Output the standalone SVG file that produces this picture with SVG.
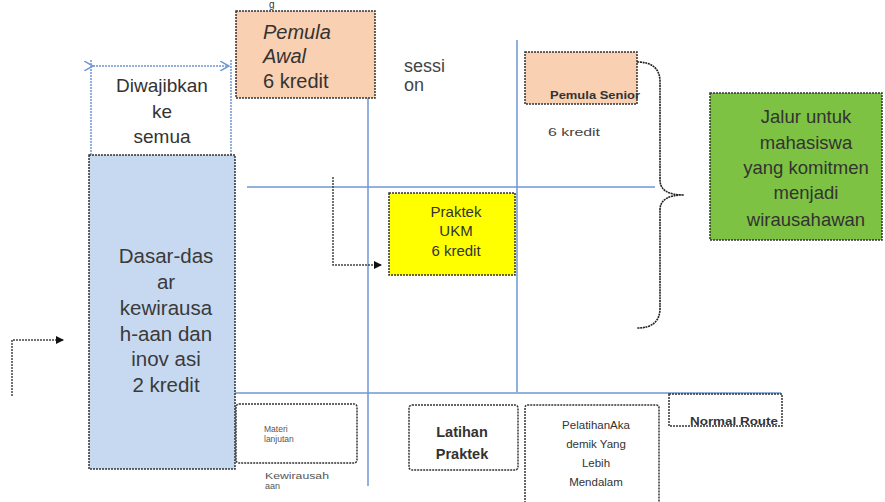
<svg xmlns="http://www.w3.org/2000/svg" width="885" height="502" viewBox="0 0 885 502">
<defs>
<marker id="ah" markerWidth="8" markerHeight="8" refX="7" refY="4" orient="auto" markerUnits="userSpaceOnUse"><path d="M0,0 L8,4 L0,8 Z" fill="#111"/></marker>
<marker id="bh" markerWidth="10" markerHeight="10" refX="9" refY="5" orient="auto" markerUnits="userSpaceOnUse"><path d="M0,0 L9,5 L0,10" fill="none" stroke="#6f97d3" stroke-width="1.5"/></marker>
<style>
text{font-family:"Liberation Sans",Arial,sans-serif;}
.grid{stroke:#6f97d3;stroke-width:1.5;fill:none;}
.box{stroke:#333;stroke-width:1.5;stroke-dasharray:2 1;}
.conn{stroke:#444;stroke-width:1.5;stroke-dasharray:2 1;fill:none;}
.c{text-anchor:middle;}
</style>
</defs>
<rect width="885" height="502" fill="#fff"/>
<text x="269" y="8" font-size="10" fill="#333">g</text>
<g id="grid">
<line class="grid" x1="368" y1="98" x2="368" y2="486"/>
<line class="grid" x1="517" y1="40" x2="517" y2="392"/>
<line class="grid" x1="247" y1="187" x2="655" y2="187"/>
<line class="grid" x1="235" y1="393" x2="781" y2="393"/>
</g>
<g id="diwajibkan">
<line class="grid" x1="91" y1="60" x2="91" y2="155" stroke-dasharray="2 1"/>
<line class="grid" x1="231" y1="60" x2="231" y2="155" stroke-dasharray="2 1"/>
<line class="grid" x1="93" y1="66" x2="229" y2="66" stroke-dasharray="2 1" marker-end="url(#bh)" marker-start="url(#bh)"/>
<text class="c" x="162" y="92" font-size="19" fill="#333">Diwajibkan</text>
<text class="c" x="162" y="118" font-size="19" fill="#333">ke</text>
<text class="c" x="162" y="143" font-size="19" fill="#333">semua</text>
</g>
<g id="dasar">
<rect class="box" x="89" y="155" width="146" height="314" fill="#c6d9f1"/>
<text class="c" x="166" y="263" font-size="20.5" fill="#3a3a3a">Dasar-das</text>
<text class="c" x="166" y="289" font-size="20.5" fill="#3a3a3a">ar</text>
<text class="c" x="166" y="315" font-size="20.5" fill="#3a3a3a">kewirausa</text>
<text class="c" x="166" y="341" font-size="20.5" fill="#3a3a3a">h-aan dan</text>
<text class="c" x="166" y="366" font-size="20.5" fill="#3a3a3a">inov asi</text>
<text class="c" x="166" y="392" font-size="20.5" fill="#3a3a3a">2 kredit</text>
</g>
<g id="pemula-awal">
<rect class="box" x="236" y="11" width="139" height="87" fill="#f9d0b2"/>
<text x="263" y="39" font-size="20" font-style="italic" fill="#333">Pemula</text>
<text x="263" y="63" font-size="20" font-style="italic" fill="#333">Awal</text>
<text x="263" y="88" font-size="20" fill="#333">6 kredit</text>
</g>
<g id="sessi">
<text x="404" y="72" font-size="18" fill="#444">sessi</text>
<text x="404" y="91" font-size="18" fill="#444">on</text>
</g>
<g id="pemula-senior">
<rect class="box" x="525" y="52" width="112" height="52" fill="#f9d0b2"/>
<text x="550" y="99" font-size="11" font-weight="bold" fill="#333" textLength="90" lengthAdjust="spacingAndGlyphs">Pemula Senior</text>
<text x="548" y="136" font-size="10" fill="#444" textLength="52" lengthAdjust="spacingAndGlyphs">6 kredit</text>
</g>
<g id="brace">
<path d="M637,62 Q660,62 660,82 L660,180 Q660,195 684,195 Q660,195 660,210 L660,308 Q660,328 637,328" fill="none" stroke="#222" stroke-width="1.6" stroke-dasharray="2 0.7"/>
</g>
<g id="jalur">
<rect class="box" x="710" y="93" width="172" height="147" fill="#7dc242"/>
<text class="c" x="806" y="123" font-size="18.5" fill="#333">Jalur untuk</text>
<text class="c" x="806" y="149" font-size="18.5" fill="#333">mahasiswa</text>
<text class="c" x="806" y="174" font-size="18.5" fill="#333">yang komitmen</text>
<text class="c" x="806" y="199" font-size="18.5" fill="#333">menjadi</text>
<text class="c" x="806" y="226" font-size="18.5" fill="#333">wirausahawan</text>
</g>
<g id="praktek-ukm">
<rect class="box" x="389" y="193" width="126" height="82" fill="#ffff00"/>
<text class="c" x="456" y="217" font-size="15" fill="#333">Praktek</text>
<text class="c" x="456" y="236" font-size="15" fill="#333">UKM</text>
<text class="c" x="456" y="256" font-size="15" fill="#333">6 kredit</text>
</g>
<g id="materi">
<rect class="box" x="236" y="404" width="121" height="59" rx="3" fill="#fff"/>
<text x="264" y="432" font-size="8.5" fill="#555">Materi</text>
<text x="264" y="442" font-size="8.5" fill="#555">lanjutan</text>
<text x="265" y="479" font-size="9" fill="#555" textLength="64" lengthAdjust="spacingAndGlyphs">Kewirausah</text>
<text x="265" y="489" font-size="9" fill="#555">aan</text>
</g>
<g id="latihan">
<rect class="box" x="409" y="405" width="109" height="65" rx="3" fill="#fff"/>
<text class="c" x="462" y="437" font-size="14.5" font-weight="bold" fill="#333">Latihan</text>
<text class="c" x="462" y="459" font-size="14.5" font-weight="bold" fill="#333">Praktek</text>
</g>
<g id="pelatihan">
<path class="box" d="M525,503 L525,408 Q525,405 528,405 L656,405 Q659,405 659,408 L659,503" fill="#fff"/>
<text class="c" x="596" y="429" font-size="11.5" fill="#333">PelatihanAka</text>
<text class="c" x="596" y="448" font-size="11.5" fill="#333">demik Yang</text>
<text class="c" x="596" y="467" font-size="11.5" fill="#333">Lebih</text>
<text class="c" x="596" y="486" font-size="11.5" fill="#333">Mendalam</text>
</g>
<g id="normal-route">
<rect class="box" x="669" y="394" width="113" height="32" fill="#fff"/>
<text x="690" y="425" font-size="10" font-weight="bold" fill="#333" textLength="88" lengthAdjust="spacingAndGlyphs">Normal  Route</text>
</g>
<g id="connectors">
<path class="conn" d="M333,177 L333,265 L381,265" marker-end="url(#ah)"/>
<path class="conn" d="M12,396 L12,340 L63,340" marker-end="url(#ah)"/>
</g>
</svg>
